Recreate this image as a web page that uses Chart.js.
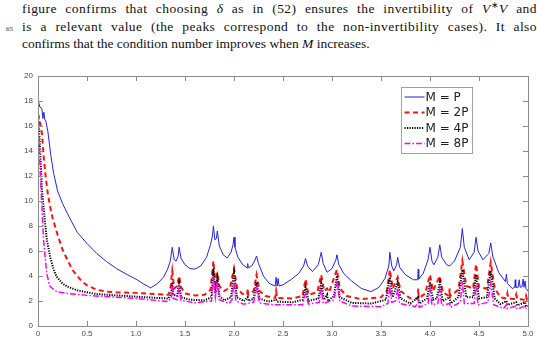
<!DOCTYPE html>
<html>
<head>
<meta charset="utf-8">
<script src="https://cdn.jsdelivr.net/npm/chart.js@4.4.1/dist/chart.umd.min.js"></script>
<style>
  body { margin: 0; background: #fff; width: 537px; height: 338px; overflow: hidden; position: relative; }
  #texto { position: absolute; left: 22px; top: 0; width: 515px; font-family: "Liberation Serif", serif; font-size: 13.5px; line-height: 17.5px; color: #111; }
  #texto div { white-space: nowrap; }
  #texto .just { text-align: justify; text-align-last: justify; white-space: normal; letter-spacing: 0.45px; }
  #linea { position: absolute; left: 6px; top: 25px; font-family: "Liberation Serif", serif; font-size: 7px; color: #333; }
  #grafico { position: absolute; left: 0; top: 60px; }
</style>
</head>
<body>
<div id="linea">65</div>
<div id="texto">
  <div class="just">figure confirms that choosing <i>δ</i> as in (52) ensures the invertibility of <i>V</i><sup style="font-size:9px;line-height:0">∗</sup><i>V</i> and</div>
  <div class="just">is a relevant value (the peaks correspond to the non-invertibility cases). It also</div>
  <div>confirms that the condition number improves when <i>M</i> increases.</div>
</div>
<canvas id="grafico" width="537" height="278"></canvas>
<script>
const etiquetas = ["M = P", "M = 2P", "M = 4P", "M = 8P"];
const ticksX = [0, 0.5, 1, 1.5, 2, 2.5, 3, 3.5, 4, 4.5, 5];
const ticksY = [0, 2, 4, 6, 8, 10, 12, 14, 16, 18, 20];

// M = P
const xP = [0, 0.02, 0.04, 0.05, 0.06, 0.07, 0.08, 0.1, 0.13, 0.16, 0.2, 0.25, 0.3, 0.4, 0.5, 0.6, 0.7, 0.8, 0.9, 1.0,
  1.08, 1.15, 1.22, 1.28, 1.32, 1.35, 1.37, 1.39, 1.41, 1.43, 1.44, 1.46, 1.5, 1.55, 1.6, 1.66, 1.72, 1.76, 1.78, 1.79,
  1.805, 1.82, 1.83, 1.85, 1.89, 1.93, 1.97, 1.99, 2.0, 2.01, 2.04, 2.09, 2.135, 2.14, 2.145, 2.18, 2.21, 2.23, 2.25, 2.3,
  2.36, 2.42, 2.43, 2.44, 2.45, 2.46, 2.5, 2.58, 2.66, 2.71, 2.73, 2.75, 2.8, 2.86, 2.89, 2.91, 2.95, 3.0, 3.04, 3.05,
  3.07, 3.12, 3.2, 3.3, 3.4, 3.48, 3.54, 3.58, 3.59, 3.61, 3.63, 3.66, 3.67, 3.69, 3.75, 3.83, 3.875, 3.88, 3.885, 3.93,
  3.98, 4.0, 4.02, 4.04, 4.08, 4.1, 4.12, 4.17, 4.2, 4.25, 4.31, 4.33, 4.35, 4.4, 4.45, 4.47, 4.49, 4.54, 4.6, 4.62,
  4.64, 4.7, 4.77, 4.78, 4.79, 4.84, 4.865, 4.87, 4.875, 4.9, 4.91, 4.92, 4.94, 4.95, 4.96, 4.97, 4.98, 5.0];
const yP = [18.1, 17.5, 17.4, 16.6, 17.1, 16.5, 16.4, 15.6, 13.7, 12.2, 10.8, 9.8, 9.0, 7.5, 6.6, 5.8, 5.15, 4.6, 4.15, 3.75,
  3.35, 3.05, 3.4, 3.9, 4.5, 5.2, 6.3, 5.3, 5.2, 5.6, 6.3, 5.4, 4.9, 4.6, 4.55, 4.8, 5.5, 6.5, 7.2, 8.0,
  6.9, 7.0, 7.6, 6.4, 5.7, 5.45, 5.9, 6.5, 7.1, 6.3, 5.5, 4.9, 4.65, 5.0, 4.65, 4.8, 5.2, 5.6, 5.0, 4.0,
  3.4, 3.2, 3.9, 3.2, 3.8, 3.2, 3.3, 3.7, 4.2, 4.8, 5.4, 4.8, 4.35, 4.9, 5.9, 5.0, 4.3, 4.6, 5.3, 5.7,
  4.9, 4.2, 3.6, 3.0, 2.75, 3.1, 3.8, 4.8, 5.9, 4.8, 4.4, 4.9, 5.5, 4.7, 4.1, 3.7, 3.7, 4.55, 3.75, 4.2,
  5.3, 6.3, 5.2, 4.9, 5.5, 6.5, 5.5, 4.9, 4.8, 5.2, 6.3, 7.8, 6.3, 5.3, 5.9, 7.1, 6.0, 5.3, 5.8, 6.65,
  5.6, 4.3, 3.55, 4.15, 3.4, 3.0, 3.1, 3.7, 3.1, 3.1, 3.7, 3.1, 3.15, 3.75, 3.1, 3.6, 3.0, 2.8];

// M = 2P
const x2P = [0, 0.02, 0.04, 0.06, 0.08, 0.1, 0.125, 0.15, 0.2, 0.25, 0.3, 0.35, 0.4, 0.45, 0.5, 0.6, 0.7, 0.8, 1.0, 1.2,
  1.33, 1.35, 1.37, 1.39, 1.42, 1.44, 1.46, 1.5, 1.6, 1.7, 1.76, 1.79, 1.81, 1.83, 1.85, 1.9, 1.96, 2.0, 2.03, 2.08,
  2.135, 2.14, 2.145, 2.2, 2.23, 2.26, 2.32, 2.42, 2.43, 2.44, 2.6, 2.7, 2.73, 2.76, 2.85, 2.89, 2.92, 2.95, 2.97, 3.05,
  3.08, 3.15, 3.3, 3.5, 3.56, 3.59, 3.62, 3.67, 3.7, 3.8, 3.875, 3.88, 3.885, 3.95, 4.0, 4.03, 4.1, 4.13, 4.195, 4.2,
  4.205, 4.29, 4.33, 4.37, 4.44, 4.47, 4.5, 4.58, 4.62, 4.66, 4.72, 4.78, 4.79, 4.8, 4.87, 4.88, 4.89, 4.97, 4.98, 4.99, 5.0];
const y2P = [17.0, 16.3, 15.4, 13.4, 11.8, 10.6, 9.5, 8.6, 7.3, 6.1, 5.3, 4.5, 4.0, 3.55, 3.25, 2.9, 2.75, 2.7, 2.65, 2.55,
  2.5, 2.9, 4.4, 3.0, 3.2, 4.0, 3.1, 2.6, 2.45, 2.5, 2.9, 5.2, 3.4, 4.3, 3.2, 2.8, 3.1, 4.6, 3.1, 2.6,
  2.5, 3.0, 2.5, 2.8, 4.1, 2.8, 2.4, 2.25, 2.8, 2.25, 2.2, 2.4, 3.75, 2.5, 2.7, 4.1, 2.8, 3.0, 2.7, 4.5,
  3.0, 2.4, 2.15, 2.3, 2.8, 4.5, 3.0, 3.9, 2.8, 2.2, 2.2, 3.0, 2.2, 2.6, 4.1, 2.8, 4.0, 2.7, 2.4, 3.0,
  2.4, 2.9, 5.2, 3.2, 3.0, 4.95, 3.1, 3.0, 5.1, 3.0, 2.3, 2.2, 2.6, 2.2, 2.15, 2.5, 2.15, 2.1, 2.4, 2.1, 2.1];

// M = 4P
const x4P = [0, 0.02, 0.04, 0.057, 0.09, 0.125, 0.16, 0.19, 0.25, 0.3, 0.4, 0.5, 0.6, 0.8, 1.0, 1.2, 1.33, 1.36, 1.37, 1.38,
  1.42, 1.44, 1.46, 1.55, 1.7, 1.77, 1.79, 1.81, 1.83, 1.85, 1.9, 1.97, 2.0, 2.03, 2.1, 2.14, 2.15, 2.2, 2.23, 2.26,
  2.35, 2.43, 2.44, 2.6, 2.7, 2.73, 2.76, 2.86, 2.89, 2.92, 2.95, 2.96, 3.02, 3.05, 3.08, 3.2, 3.4, 3.55, 3.59, 3.62,
  3.67, 3.7, 3.8, 3.88, 3.89, 3.97, 4.0, 4.03, 4.07, 4.1, 4.13, 4.2, 4.21, 4.29, 4.33, 4.37, 4.44, 4.47, 4.5, 4.58,
  4.62, 4.66, 4.72, 4.78, 4.79, 4.88, 4.89, 4.97, 4.98, 5.0];
const y4P = [17.0, 14.5, 10.9, 9.5, 6.9, 5.5, 4.5, 3.95, 3.4, 3.15, 2.85, 2.7, 2.55, 2.45, 2.35, 2.25, 2.2, 2.6, 3.5, 2.5,
  2.4, 3.4, 2.3, 2.1, 2.05, 2.3, 4.6, 2.6, 3.8, 2.4, 2.05, 2.3, 4.2, 2.3, 2.0, 2.3, 2.0, 2.2, 3.5, 2.2,
  1.95, 2.1, 1.95, 1.9, 2.1, 3.1, 2.0, 2.2, 3.4, 2.1, 2.5, 2.0, 2.4, 4.0, 2.3, 1.85, 1.8, 2.1, 3.9, 2.3,
  3.5, 2.2, 1.8, 2.3, 1.8, 2.2, 3.5, 2.1, 2.2, 3.5, 2.0, 2.3, 1.8, 2.3, 4.5, 2.3, 2.3, 4.1, 2.2, 2.3,
  4.4, 2.2, 1.75, 2.0, 1.7, 1.9, 1.65, 1.9, 1.6, 1.6];

// M = 8P
const x8P = [0, 0.01, 0.023, 0.04, 0.057, 0.075, 0.09, 0.11, 0.125, 0.19, 0.3, 0.5, 0.7, 1.0, 1.2, 1.33, 1.36, 1.37, 1.38, 1.42,
  1.44, 1.46, 1.6, 1.77, 1.79, 1.81, 1.83, 1.85, 1.95, 1.98, 2.0, 2.02, 2.1, 2.2, 2.23, 2.26, 2.4, 2.7, 2.73, 2.76,
  2.87, 2.89, 2.91, 3.02, 3.05, 3.08, 3.2, 3.5, 3.57, 3.59, 3.61, 3.65, 3.67, 3.69, 3.85, 3.88, 3.89, 3.98, 4.0, 4.02,
  4.08, 4.1, 4.12, 4.2, 4.21, 4.31, 4.33, 4.35, 4.45, 4.47, 4.49, 4.59, 4.62, 4.65, 4.75, 4.78, 4.79, 4.88, 4.89, 4.97,
  4.98, 5.0];
const y8P = [17.0, 15.4, 12.2, 9.5, 6.9, 5.3, 4.2, 3.5, 3.15, 2.75, 2.6, 2.45, 2.35, 2.2, 2.05, 1.95, 2.3, 3.2, 2.2, 2.1,
  3.0, 2.05, 1.85, 2.0, 4.0, 2.3, 3.5, 2.1, 1.8, 2.1, 3.5, 2.0, 1.75, 1.9, 3.0, 1.85, 1.7, 1.7, 2.6, 1.75,
  1.9, 3.0, 1.8, 2.1, 3.4, 2.0, 1.6, 1.55, 1.8, 3.2, 1.9, 2.0, 3.0, 1.8, 1.55, 1.9, 1.5, 1.8, 2.9, 1.7,
  1.8, 2.9, 1.65, 1.8, 1.5, 1.9, 3.6, 1.8, 1.8, 3.3, 1.7, 1.9, 3.4, 1.7, 1.4, 1.7, 1.4, 1.6, 1.35, 1.6,
  1.35, 1.33];

const puntos = (xs, ys) => xs.map((x, i) => ({ x: x, y: ys[i] }));

const datasets = [
  { label: etiquetas[0], data: puntos(xP, yP), borderColor: "#2424dc", borderWidth: 1, borderDash: [], order: 4 },
  { label: etiquetas[1], data: puntos(x2P, y2P), borderColor: "#ff1010", borderWidth: 2, borderDash: [5, 3.5], order: 3 },
  { label: etiquetas[2], data: puntos(x4P, y4P), borderColor: "#000000", borderWidth: 2, borderDash: [1.2, 1.3], order: 2 },
  { label: etiquetas[3], data: puntos(x8P, y8P), borderColor: "#ff00ff", borderWidth: 1.5, borderDash: [6, 2, 1.5, 2], order: 1 },
].map((d) => ({ ...d, pointRadius: 0, tension: 0, fill: false }));

// marco y marcas hacia adentro, estilo matlab
const marco = {
  id: "marco",
  afterDraw(chart) {
    const { ctx, chartArea: a, scales } = chart;
    ctx.save();
    ctx.strokeStyle = "#8a8a8a";
    ctx.lineWidth = 1;
    ctx.strokeRect(a.left + 0.5, a.top + 0.5, a.right - a.left, a.bottom - a.top);
    ctx.beginPath();
    ticksX.forEach((v) => {
      const px = Math.round(scales.x.getPixelForValue(v)) + 0.5;
      ctx.moveTo(px, a.bottom); ctx.lineTo(px, a.bottom - 5);
      ctx.moveTo(px, a.top); ctx.lineTo(px, a.top + 5);
    });
    ticksY.forEach((v) => {
      const py = Math.round(scales.y.getPixelForValue(v)) + 0.5;
      ctx.moveTo(a.left, py); ctx.lineTo(a.left + 5, py);
      ctx.moveTo(a.right, py); ctx.lineTo(a.right - 5, py);
    });
    ctx.stroke();

    // leyenda
    const w = 71, h = 66;
    const bx = Math.round(a.right - 127) + 0.5, by = Math.round(a.top + 11) + 0.5;
    ctx.fillStyle = "#fff";
    ctx.fillRect(bx, by, w, h);
    ctx.strokeStyle = "#a0a0a0";
    ctx.strokeRect(bx, by, w, h);
    ctx.font = "12px 'DejaVu Sans'";
    ctx.textBaseline = "middle";
    chart.data.datasets.forEach((d, i) => {
      const yy = by + 9.5 + i * 15.5;
      ctx.strokeStyle = d.borderColor;
      ctx.lineWidth = d.borderWidth;
      ctx.setLineDash(d.borderDash);
      ctx.beginPath();
      ctx.moveTo(bx + 3, yy);
      ctx.lineTo(bx + 23, yy);
      ctx.stroke();
      ctx.setLineDash([]);
      ctx.fillStyle = "#222";
      ctx.fillText(d.label, bx + 24, yy + 0.5);
    });
    ctx.restore();
  },
};

const config = {
  type: "line",
  data: { datasets },
  options: {
    responsive: false,
    animation: false,
    layout: { padding: { left: 0, right: 9, top: 16, bottom: 0 } },
    plugins: { legend: { display: false }, tooltip: { enabled: false } },
    scales: {
      x: {
        type: "linear",
        min: 0,
        max: 5,
        afterBuildTicks: (s) => { s.ticks = ticksX.map((v) => ({ value: v })); },
        afterFit: (s) => { s.height = 12; },
        grid: { display: false, drawTicks: false },
        border: { display: false },
        ticks: { padding: 3, maxRotation: 0, color: "#4a4a4a", font: { family: "Liberation Sans", size: 8 } },
      },
      y: {
        min: 0,
        max: 20,
        afterBuildTicks: (s) => { s.ticks = ticksY.map((v) => ({ value: v })); },
        afterFit: (s) => { s.width = 38; },
        grid: { display: false, drawTicks: false },
        border: { display: false },
        ticks: { padding: 5, color: "#4a4a4a", font: { family: "Liberation Sans", size: 8 } },
      },
    },
  },
  plugins: [marco],
};

const canvas = document.getElementById("grafico");
const miGrafico = new Chart(canvas.getContext("2d"), config);
</script>
</body>
</html>
